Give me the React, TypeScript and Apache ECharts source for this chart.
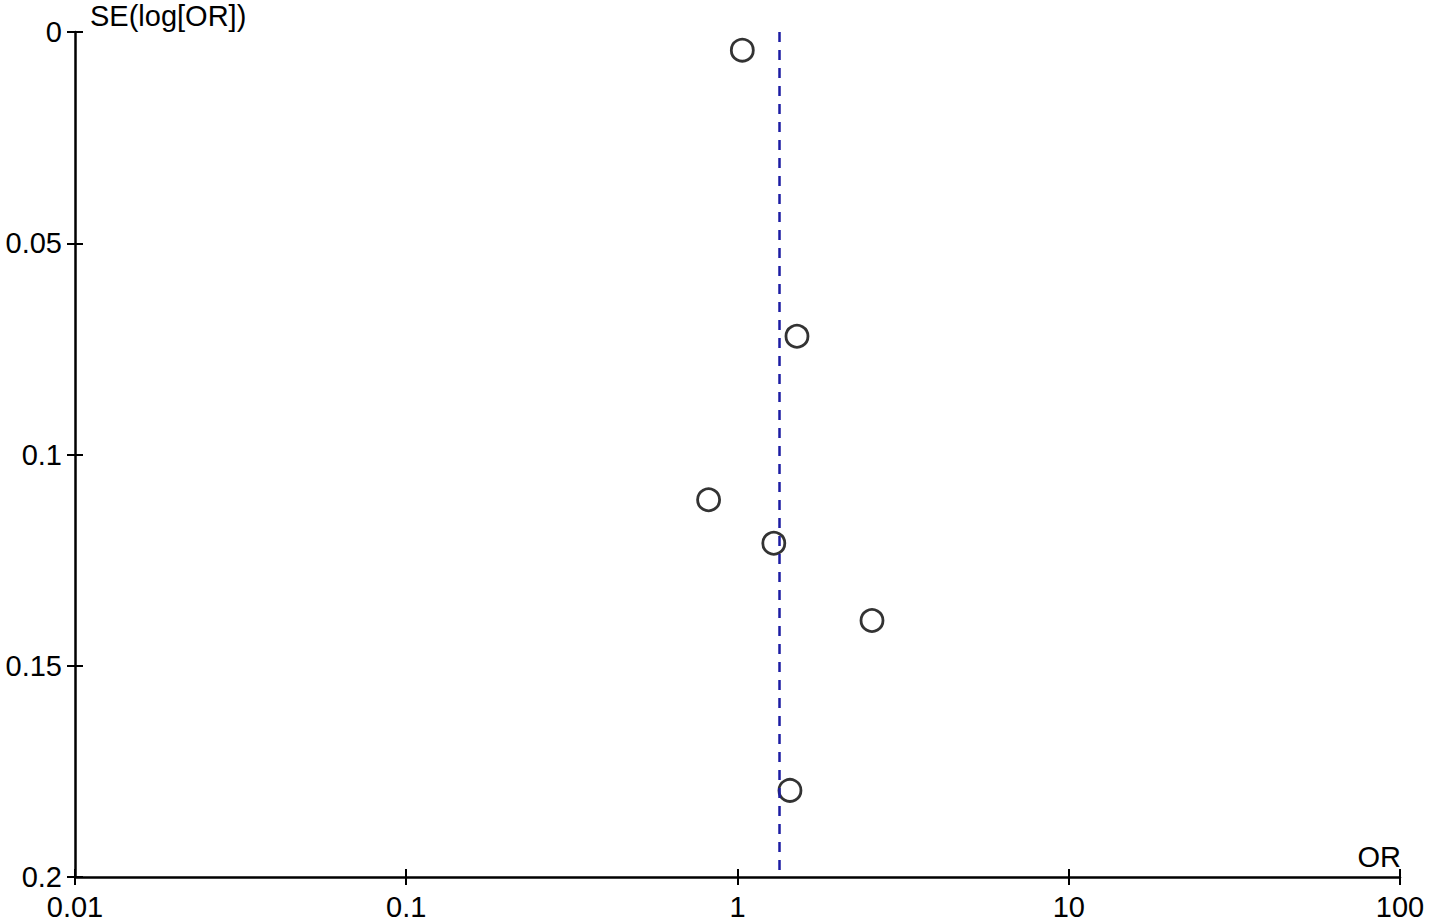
import React, { useEffect, useRef } from "react";
import * as echarts from "echarts";

const orValues = [1.034, 1.512, 0.818, 1.287, 2.547, 1.44];
const seValues = [0.0043, 0.072, 0.1107, 0.121, 0.1393, 0.1795];
const pooledOR = 1.344;
const xTicks = ["0.01", "0.1", "1", "10", "100"];
const yTicks = ["0", "0.05", "0.1", "0.15", "0.2"];

const FONT = "'Liberation Sans', Arial, sans-serif";
const FS = 29;

export default function App() {
  const ref = useRef<HTMLDivElement>(null);
  useEffect(() => {
    if (!ref.current) return;
    const chart = echarts.init(ref.current, undefined, { renderer: "svg" });
    const points = orValues.map((v, i) => [v, seValues[i]]);
    const xFmt = (v: number) => {
      const idx = Math.round(Math.log10(v)) + 2;
      return xTicks[idx] ?? String(v);
    };
    const yFmt = (v: number) => {
      const idx = Math.round(v / 0.05);
      return yTicks[idx] ?? String(v);
    };
    chart.setOption({
      animation: false,
      backgroundColor: "#ffffff",
      grid: { left: 75, right: 29, top: 32, bottom: 46 },
      xAxis: [
        {
          type: "log",
          logBase: 10,
          min: 0.01,
          max: 100,
          position: "bottom",
          axisLine: { show: true, onZero: false, lineStyle: { color: "#000", width: 2.5 } },
          axisTick: { show: false },
          axisLabel: { color: "#000", fontSize: FS, fontFamily: FONT, margin: 15, formatter: xFmt },
          splitLine: { show: false },
          minorTick: { show: false },
        },
        {
          type: "log",
          logBase: 10,
          min: 0.01,
          max: 100,
          position: "bottom",
          offset: -8,
          axisLine: { show: false, onZero: false },
          axisTick: { show: true, length: 16, lineStyle: { color: "#000", width: 2 } },
          axisLabel: { show: false },
          splitLine: { show: false },
        },
      ],
      yAxis: [
        {
          type: "value",
          inverse: true,
          min: 0,
          max: 0.2,
          interval: 0.05,
          position: "left",
          axisLine: { show: true, onZero: false, lineStyle: { color: "#000", width: 2.5 } },
          axisTick: { show: false },
          axisLabel: { color: "#000", fontSize: FS, fontFamily: FONT, margin: 13, formatter: yFmt },
          splitLine: { show: false },
        },
        {
          type: "value",
          inverse: true,
          min: 0,
          max: 0.2,
          interval: 0.05,
          position: "left",
          offset: -8,
          axisLine: { show: false, onZero: false },
          axisTick: { show: true, length: 16, lineStyle: { color: "#000", width: 2 } },
          axisLabel: { show: false },
          splitLine: { show: false },
        },
      ],
      graphic: [
        {
          type: "text",
          left: 90,
          top: 1,
          style: { text: "SE(log[OR])", fill: "#000", font: `${FS}px ${FONT}` },
        },
        {
          type: "text",
          right: 28,
          top: 842,
          style: { text: "OR", fill: "#000", font: `${FS}px ${FONT}` },
        },
      ],
      series: [
        {
          type: "scatter",
          xAxisIndex: 0,
          yAxisIndex: 0,
          data: points,
          symbol: "circle",
          symbolSize: 22,
          itemStyle: { color: "rgba(255,255,255,0)", borderColor: "#000", borderWidth: 2.8 },
          markLine: {
            silent: true,
            symbol: "none",
            label: { show: false },
            lineStyle: { color: "#1c1ca3", width: 2.5, type: [10, 8] },
            data: [{ xAxis: pooledOR }],
          },
          z: 3,
        },
        {
          type: "scatter",
          xAxisIndex: 1,
          yAxisIndex: 1,
          data: points,
          symbolSize: 0,
          silent: true,
          itemStyle: { opacity: 0 },
        },
      ],
    });
    return () => chart.dispose();
  }, []);
  return (
    <div
      ref={ref}
      style={{ position: "fixed", left: 0, top: 0, width: 1429, height: 923, background: "#fff" }}
    />
  );
}
